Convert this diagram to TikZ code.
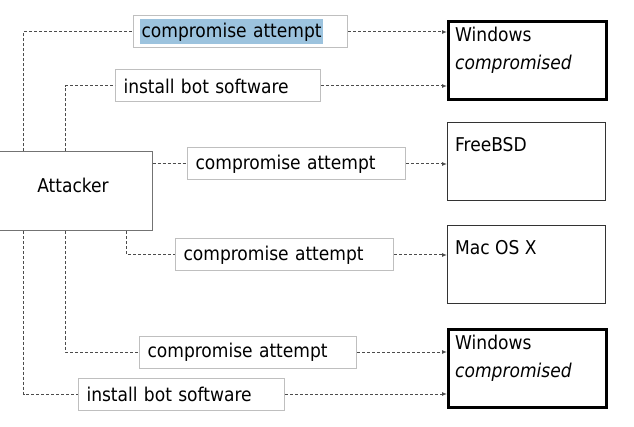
\documentclass[tikz,border=0pt]{standalone}
\usepackage{fontspec}
\setmainfont{DejaVu Sans Condensed}
\usetikzlibrary{arrows.meta}
\colorlet{label border color}{black!25}
\colorlet{link color}{black!70}
\definecolor{hilitecolor}{HTML}{9CC3DE}
\newcommand{\hilite}[1]{{\setlength{\fboxsep}{1.5pt}\colorbox{hilitecolor}{\rule[-5pt]{0pt}{22pt}#1}}}
\tikzset{
    x={1pt},
    y={-1pt},
    every node/.style={
        font={\fontsize{19}{28}\selectfont},
    },
    host/.style={
        draw=black!55,
        line width={1pt},
        minimum width={158},
        minimum height={79},
        text depth={12pt},
    },
    target/.style={
        draw={#1},
        anchor=north west,
        line width={1pt},
        minimum width={158},
        minimum height={78},
        inner sep=0pt,
    },
    target/.default={black!80},
    compromised target/.style={
        target={black},
        line width={3pt},
    },
    target label/.style={
        anchor=north west,
        align=left,
        inner sep=0pt,
        xshift=8,
        yshift={-#1},
    },
    action/.style={
        draw=label border color,
        fill=white,
        anchor=west,
        line width={1pt},
        align=left,
        text width={#1},
        minimum height={32},
        inner xsep=8pt,
        inner ysep=0pt,
    },
    link/.style={
        draw=link color,
        line width={1pt},
        dash pattern=on 3pt off 2pt,
    },
    link arrow/.style={
        link,
        -{Latex[length=5pt,width=4pt]},
    },
}

\begin{document}
\begin{tikzpicture}
\useasboundingbox (0,0) rectangle (634,427);
% hosts
\node[host] (attacker) at (73,191.5) {Attacker};
\node[compromised target, label={[target label=7]north west:Windows\\\textit{compromised}}] (win top) at (447,20) {};
\node[target, label={[target label=15]north west:FreeBSD}] (freebsd) at (447,122) {};
\node[target, label={[target label=15]north west:Mac OS X}] (macos) at (447,225) {};
\node[compromised target, label={[target label=7]north west:Windows\\\textit{compromised}}] (win bottom) at (447,328) {};
% actions
\node[action=201, inner xsep=6.5pt] (attempt top) at (133,32) {\hilite{compromise attempt}};
\node[action=189] (install top) at (115,86) {install bot software};
\node[action=202] (attempt bsd) at (187,164) {compromise attempt};
\node[action=202] (attempt mac) at (175,255) {compromise attempt};
\node[action=201] (attempt bottom) at (139,352) {compromise attempt};
\node[action=190] (install bottom) at (78,394) {install bot software};
% links
\draw[link] ([xshift=30]attacker.north west) |- (attempt top.west);
\draw[link arrow] (attempt top.east) -- (attempt top.east -| win top.west);
\draw[link] ([xshift=72]attacker.north west) |- (install top.west);
\draw[link arrow] (install top.east) -- (install top.east -| win top.west);
\draw[link] (attacker.east |- attempt bsd.west) -- (attempt bsd.west);
\draw[link arrow] (attempt bsd.east) -- (attempt bsd.east -| freebsd.west);
\draw[link] ([xshift=133]attacker.south west) |- (attempt mac.west);
\draw[link arrow] (attempt mac.east) -- (attempt mac.east -| macos.west);
\draw[link] ([xshift=72]attacker.south west) |- (attempt bottom.west);
\draw[link arrow] (attempt bottom.east) -- (attempt bottom.east -| win bottom.west);
\draw[link] ([xshift=30]attacker.south west) |- (install bottom.west);
\draw[link arrow] (install bottom.east) -- (install bottom.east -| win bottom.west);
\end{tikzpicture}
\end{document}
